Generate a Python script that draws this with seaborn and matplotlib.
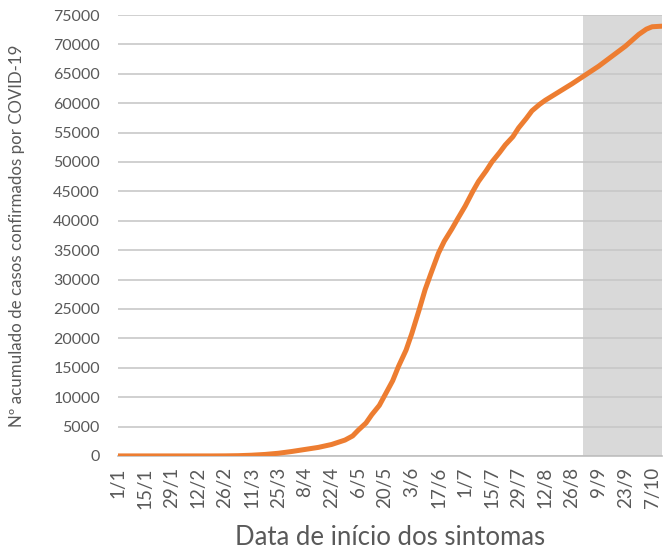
import numpy as np
import pandas as pd
import matplotlib
matplotlib.use("Agg")
import matplotlib.pyplot as plt
import seaborn as sns

# cumulative confirmed cases by symptom onset date
dates = ["2020-01-01", "2020-01-15", "2020-01-29", "2020-02-12", "2020-02-19",
         "2020-02-26", "2020-03-04", "2020-03-11", "2020-03-18", "2020-03-25",
         "2020-04-01", "2020-04-08", "2020-04-15", "2020-04-22", "2020-04-29",
         "2020-05-03", "2020-05-06", "2020-05-10", "2020-05-13", "2020-05-17",
         "2020-05-20", "2020-05-24", "2020-05-27", "2020-05-31", "2020-06-03",
         "2020-06-07", "2020-06-10", "2020-06-13", "2020-06-17", "2020-06-20",
         "2020-06-24", "2020-06-27", "2020-07-01", "2020-07-05", "2020-07-08",
         "2020-07-12", "2020-07-15", "2020-07-19", "2020-07-22", "2020-07-26",
         "2020-07-29", "2020-08-02", "2020-08-05", "2020-08-09", "2020-08-12",
         "2020-08-19", "2020-08-26", "2020-09-02", "2020-09-09", "2020-09-16",
         "2020-09-23", "2020-09-30", "2020-10-04", "2020-10-07", "2020-10-12"]
casos = [0, 0, 0, 0, 0,
         10, 40, 120, 250, 450,
         750, 1100, 1450, 1950, 2700,
         3400, 4400, 5600, 7000, 8600,
         10400, 12800, 15200, 18000, 20800,
         25000, 28300, 31000, 34500, 36500,
         38600, 40300, 42500, 45000, 46700,
         48500, 50000, 51600, 52900, 54300,
         55800, 57400, 58700, 59800, 60500,
         61900, 63300, 64800, 66300, 68000,
         69700, 71700, 72600, 73000, 73100]

shade_start = "2020-09-01"
tick_start, tick_end = "2020-01-01", "2020-10-07"

df = pd.DataFrame({"data": pd.to_datetime(dates), "casos": casos})

sns.set_style("white")
plt.rcParams["font.family"] = ["Lato", "DejaVu Sans"]
grey = "#595959"

fig, ax = plt.subplots(figsize=(6.63, 5.56), dpi=100)
fig.subplots_adjust(left=0.178, right=0.998, bottom=0.18, top=0.973)

ax.axvspan(pd.Timestamp(shade_start), pd.Timestamp("2020-10-12"), color="#d9d9d9", zorder=0.1, lw=0)
sns.lineplot(data=df, x="data", y="casos", color="#ED7D31", linewidth=3.6, ax=ax, zorder=3)

ticks = pd.date_range(tick_start, tick_end, freq="14D")
ax.set_xticks(ticks)
ax.set_xticklabels([f"{t.day}/{t.month}" for t in ticks], rotation=90, fontsize=13.5, color=grey)
ax.set_xlim(pd.Timestamp("2020-01-01"), pd.Timestamp("2020-10-12"))

ax.set_ylim(0, 75000)
ax.set_yticks(np.arange(0, 75001, 5000))
ax.set_yticklabels([str(v) for v in range(0, 75001, 5000)], fontsize=11.5, color=grey)

ax.grid(axis="y", color="#c8c8c8", linewidth=1.2)
ax.set_axisbelow(True)
for s in ["top", "right", "left"]:
    ax.spines[s].set_visible(False)
ax.spines["bottom"].set_color("#bfbfbf")
ax.spines["bottom"].set_linewidth(1.2)
ax.tick_params(axis="y", length=0, pad=13)
ax.tick_params(axis="x", length=0, pad=8)

ax.set_xlabel("Data de início dos sintomas", fontsize=18.5, color=grey, labelpad=12)
ax.set_ylabel("Nº acumulado de casos confirmados por COVID-19", fontsize=12.2, color=grey, labelpad=20)

fig.savefig("out.png", dpi=100)
